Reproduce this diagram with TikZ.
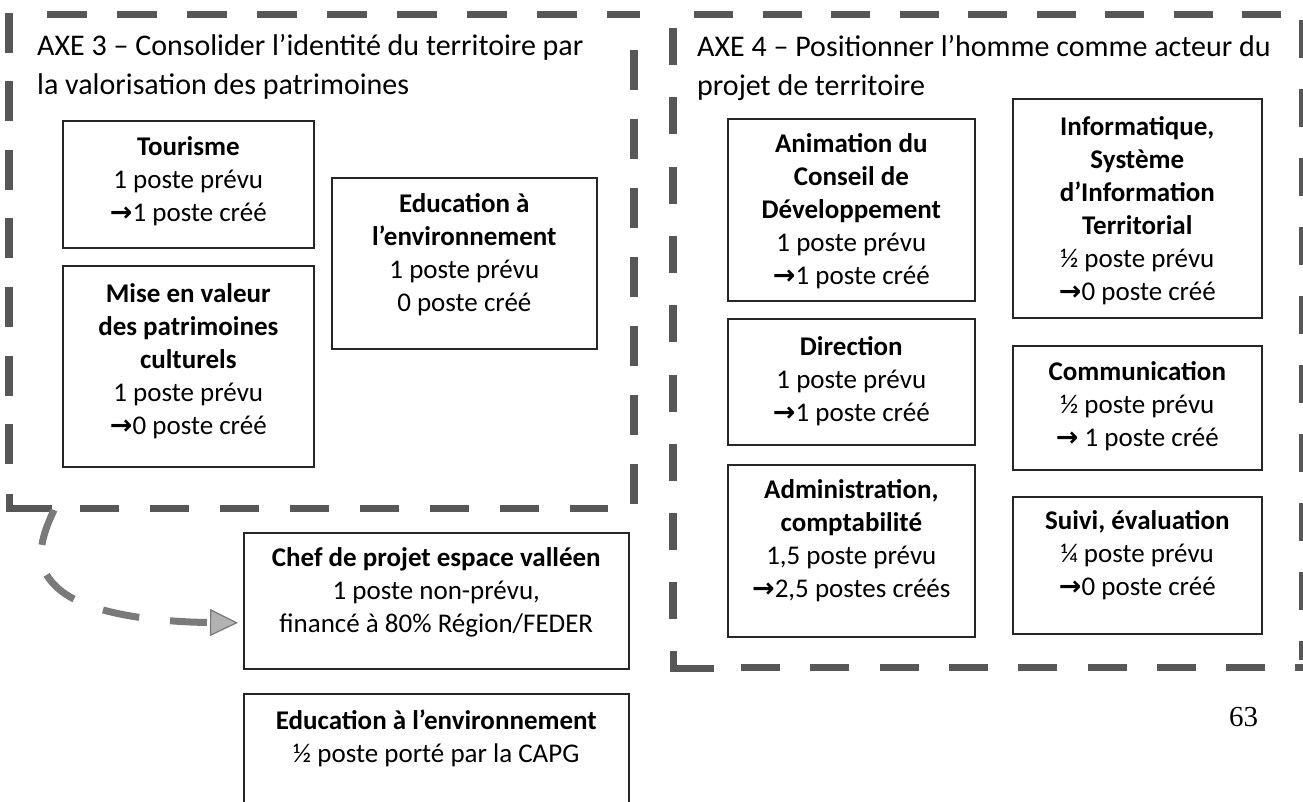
\documentclass[tikz,border=0pt]{standalone}
\usepackage{fontspec}
\setmainfont{Carlito}
\newfontfamily\arrfont{DejaVu Sans Bold}
\newfontfamily\pagefont{Liberation Serif}
\usetikzlibrary{arrows.meta}
\newcommand\arr{{\arrfont\char"2192}}
\newcommand\firstline[1]{\rule{0pt}{#1pt}}
\begin{document}
\begin{tikzpicture}[x=1pt,y=-1pt,
  box/.style={draw=black!85, line width=1.6pt, anchor=north west, inner sep=0pt},
  boxtext/.style={anchor=north, align=center, inner sep=0pt, font=\fontsize{27}{33}\selectfont},
  frameline/.style={draw=black!66, line width=7pt, line cap=butt},
  titletext/.style={anchor=north west, align=left, inner sep=0pt, font=\fontsize{30}{39.5}\selectfont},
  arrowline/.style={draw=black!52, line width=7pt, dash pattern=on 37pt off 31pt,
    -{Triangle[length=28pt,width=27pt,line width=1.2pt,fill=black!30]}}
]
\useasboundingbox (0,0) rectangle (1303,802);
\fill[white] (0,0) rectangle (1303,802);
\clip (0,0) rectangle (1303,802);

% ---------- AXE 3 frame ----------
\draw[frameline, dash pattern=on 40pt off 30pt] (47,15) -- (640,15);
\draw[frameline, line width=8pt, dash pattern=on 40pt off 28.5pt] (9,13) -- (9,466);
\draw[frameline, line width=7pt] (9,494) -- (9,508) -- (52,508);
\draw[frameline, dash pattern=on 39pt off 31pt] (80,508) -- (608,508);
\draw[frameline, line width=8pt, dash pattern=on 40pt off 29pt] (634,50) -- (634,505);

% ---------- AXE 4 frame ----------
\draw[frameline, dash pattern=on 39pt off 29.5pt] (694,15) -- (1283,15);
\draw[frameline, line width=8pt, dash pattern=on 37pt off 32.3pt] (673,28) -- (673,620);
\draw[frameline] (673,651) -- (673,668) -- (714,668);
\draw[frameline, dash pattern=on 39pt off 30.3pt] (741,667) -- (1303,667);
\draw[frameline, dash pattern=on 38pt off 31pt] (1302,20) -- (1302,660);

% ---------- titles ----------
\node[titletext] (t3) at (37,27) {\firstline{28}AXE 3 – Consolider l’identité du territoire par\\la valorisation des patrimoines};
\node[titletext] (t4) at (697,28) {\firstline{28}AXE 4 – Positionner l’homme comme acteur du\\projet de territoire};

% ---------- AXE 3 boxes ----------
\node[box, minimum width=251pt, minimum height=127pt] (tour) at (62,120) {};
\node[boxtext] (tourT) at ([yshift=-13pt]tour.north) {\firstline{22}\textbf{Tourisme}\\1 poste prévu\\\arr1 poste créé};

\node[box, minimum width=251pt, minimum height=201pt] (mise) at (62,265) {};
\node[boxtext] (miseT) at ([yshift=-15pt]mise.north) {\firstline{22}\textbf{Mise en valeur}\\\textbf{des patrimoines}\\\textbf{culturels}\\1 poste prévu\\\arr0 poste créé};

\node[box, minimum width=265pt, minimum height=171pt] (edul) at (331,177) {};
\node[boxtext] (edulT) at ([yshift=-13pt]edul.north) {\firstline{22}\textbf{Education à}\\\textbf{l’environnement}\\1 poste prévu\\0 poste créé};

% ---------- AXE 4 boxes ----------
\node[box, minimum width=247pt, minimum height=182pt] (anim) at (727,118) {};
\node[boxtext] (animT) at ([yshift=-12pt]anim.north) {\firstline{22}\textbf{Animation du}\\\textbf{Conseil de}\\\textbf{Développement}\\1 poste prévu\\\arr1 poste créé};

\node[box, minimum width=249pt, minimum height=219pt] (info) at (1012,98) {};
\node[boxtext] (infoT) at ([yshift=-15pt]info.north) {\firstline{22}\textbf{Informatique,}\\\textbf{Système}\\\textbf{d’Information}\\\textbf{Territorial}\\½ poste prévu\\\arr0 poste créé};

\node[box, minimum width=247pt, minimum height=126pt] (dir) at (727,318) {};
\node[boxtext] (dirT) at ([yshift=-15pt]dir.north) {\firstline{22}\textbf{Direction}\\1 poste prévu\\\arr1 poste créé};

\node[box, minimum width=249pt, minimum height=124pt] (comm) at (1012,345) {};
\node[boxtext] (commT) at ([yshift=-13pt]comm.north) {\firstline{22}\textbf{Communication}\\½ poste prévu\\\arr{} 1 poste créé};

\node[box, minimum width=247pt, minimum height=172pt] (admin) at (727,464) {};
\node[boxtext] (adminT) at ([yshift=-12pt]admin.north) {\firstline{22}\textbf{Administration,}\\\textbf{comptabilité}\\1,5 poste prévu\\\arr2,5 postes créés};

\node[box, minimum width=249pt, minimum height=137pt] (suivi) at (1012,496) {};
\node[boxtext] (suiviT) at ([yshift=-11pt]suivi.north) {\firstline{22}\textbf{Suivi, évaluation}\\¼ poste prévu\\\arr0 poste créé};

% ---------- bottom boxes ----------
\node[box, minimum width=385pt, minimum height=136pt] (chef) at (243,532) {};
\node[boxtext] (chefT) at ([yshift=-12pt]chef.north) {\firstline{22}\textbf{Chef de projet espace valléen}\\1 poste non-prévu,\\financé à 80\% Région/FEDER};

\node[box, minimum width=385pt, minimum height=125pt] (edub) at (243,693) {};
\node[boxtext] (edubT) at ([yshift=-14pt]edub.north) {\firstline{22}\textbf{Education à l’environnement}\\½ poste porté par la CAPG};

% ---------- arrow ----------
\coordinate (arrS) at (54,510);
\coordinate (arrE) at ([xshift=-5pt,yshift=-22pt]chef.west);
\draw[arrowline] (arrS) .. controls (36,548) and (36,570) .. (60,590)
  .. controls (90,615) and (160,622) .. (arrE);

% ---------- page number ----------
\node[anchor=base west, inner sep=0pt, font=\pagefont\fontsize{29}{30}\selectfont] (page) at (1229,726) {63};
\end{tikzpicture}
\end{document}
